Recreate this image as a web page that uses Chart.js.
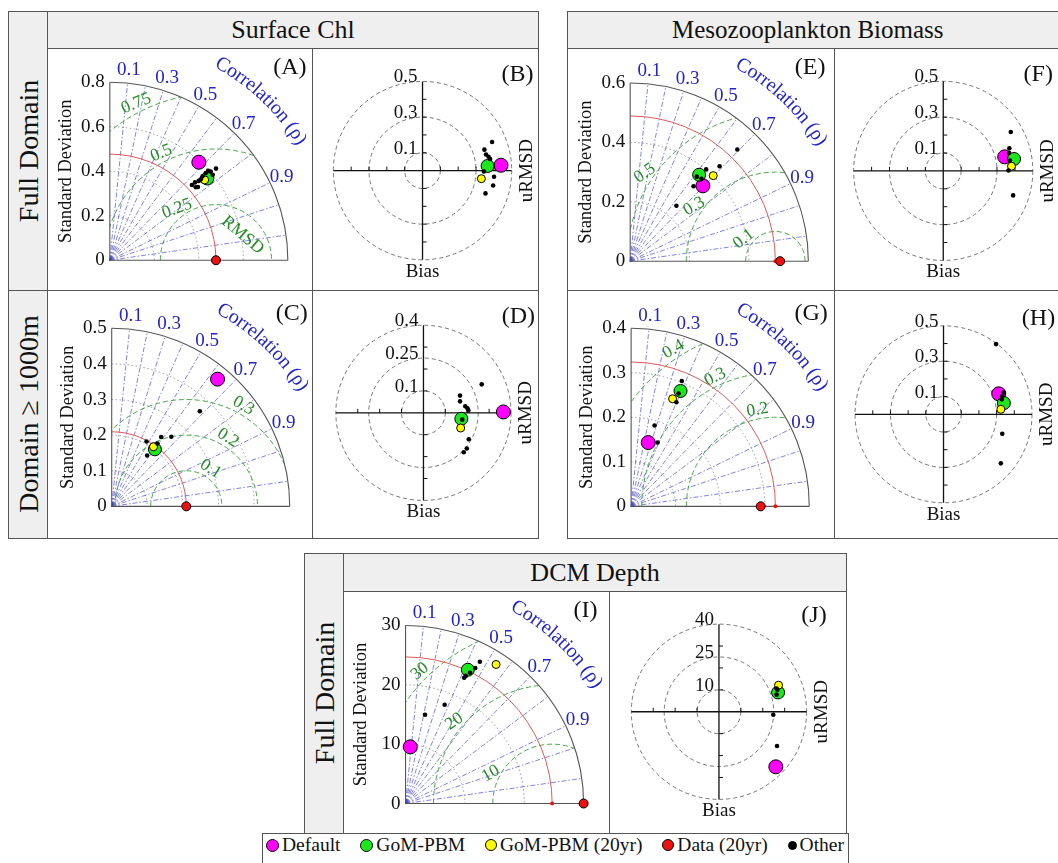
<!DOCTYPE html>
<html><head><meta charset="utf-8">
<script src="https://cdn.jsdelivr.net/npm/chart.js@4.4.1/dist/chart.umd.min.js"></script>
<style>
body{margin:0;width:1058px;height:863px;position:relative;background:#fff;overflow:hidden;font-family:"Liberation Serif","Times New Roman",serif;color:#111;}
.rect{position:absolute;border:1px solid #555;box-sizing:border-box;}
.line{position:absolute;background:#555;}
.hdr{display:flex;align-items:center;justify-content:center;font-size:26px;}
.side{position:absolute;font-size:28px;white-space:nowrap;transform:translate(-50%,-50%) rotate(-90deg);}
canvas{position:absolute;}
#legend{position:absolute;left:266px;top:834px;width:578px;height:22px;display:flex;align-items:center;justify-content:space-between;font-size:19.5px;}
#legend .it{display:flex;align-items:center;}
#legend .mk{display:inline-block;border:1px solid #000;border-radius:50%;margin-right:3px;box-sizing:border-box;}
</style></head>
<body>
<script>
// ---------------- DATA ----------------
const seriesNames = ['Default','GoM-PBM','GoM-PBM (20yr)','Data (20yr)','Other'];
const corrLines = [0.1,0.2,0.3,0.4,0.5,0.6,0.7,0.8,0.9,0.95,0.99];
const corrLabels = [0.1,0.3,0.5,0.7,0.9];

// Taylor panels: [standard deviation, correlation]
// (A) Surface Chl, full domain
const A_ticks = [0,0.2,0.4,0.6,0.8];
const A_rmsd = [0.25,0.5,0.75];
const A_ref = 0.477;
const A_default = [[0.597,0.67]];
const A_gom = [[0.573,0.764]];
const A_gom20 = [[0.560,0.761]];
const A_data20 = [[0.477,1]];
const A_other = [[0.502,0.735],[0.520,0.736],[0.516,0.767],[0.537,0.744],[0.549,0.745],[0.564,0.739],[0.584,0.738],[0.599,0.738],[0.605,0.749],[0.632,0.755],[0.603,0.767],[0.508,0.760]];
// (C) Surface Chl, domain >= 1000 m
const C_ticks = [0,0.1,0.2,0.3,0.4,0.5];
const C_rmsd = [0.1,0.2,0.3];
const C_ref = 0.2095;
const C_default = [[0.466,0.638]];
const C_gom = [[0.2015,0.602]];
const C_gom20 = [[0.205,0.572]];
const C_data20 = [[0.2095,1]];
const C_other = [[0.2075,0.471],[0.1746,0.57],[0.240,0.579],[0.258,0.649],[0.365,0.678],[0.219,0.587]];
// (E) Mesozooplankton, full domain
const E_ticks = [0,0.2,0.4,0.6];
const E_rmsd = [0.1,0.3,0.5];
const E_ref = 0.489;
const E_default = [[0.354,0.692]];
const E_gom = [[0.374,0.621]];
const E_gom20 = [[0.403,0.694]];
const E_data20 = [[0.505,1]];
const E_other = [[0.523,0.690],[0.441,0.683],[0.403,0.635],[0.332,0.643],[0.244,0.638],[0.364,0.616],[0.368,0.652]];
// (G) Mesozooplankton, domain >= 1000 m
const G_ticks = [0,0.1,0.2,0.3,0.4];
const G_rmsd = [0.2,0.3,0.4];
const G_ref = 0.324;
const G_default = [[0.149,0.258]];
const G_gom = [[0.283,0.392]];
const G_gom20 = [[0.260,0.358]];
const G_data20 = [[0.291,1]];
const G_other = [[0.305,0.373],[0.256,0.397],[0.190,0.277],[0.156,0.381],[0.276,0.386]];
// (I) DCM depth, full domain
const I_ticks = [0,10,20,30];
const I_rmsd = [10,20,30];
const I_ref = 24.7;
const I_default = [[9.64,0.082]];
const I_gom = [[25.0,0.42]];
const I_gom20 = [[28.08,0.543]];
const I_data20 = [[30.0,1]];
const I_other = [[27.1,0.462],[25.8,0.455],[23.9,0.424],[24.7,0.44],[18.0,0.366],[15.4,0.213],[23.5,0.42]];

// Target panels: [uRMSD, bias]
const B_circles = [0.1,0.3,0.5];
const B_default = [[0.44,0.03]];
const B_gom = [[0.365,0.026]];
const B_gom20 = [[0.33,-0.045]];
const B_other = [[0.39,0.16],[0.347,0.117],[0.356,0.09],[0.37,0.077],[0.379,0.065],[0.401,-0.034],[0.396,-0.083],[0.353,-0.127],[0.344,-0.005]];
const D_circles = [0.1,0.25,0.4];
const D_default = [[0.365,0.004]];
const D_gom = [[0.173,-0.027]];
const D_gom20 = [[0.170,-0.069]];
const D_other = [[0.266,0.129],[0.167,0.078],[0.167,0.052],[0.191,0.030],[0.205,0.011],[0.201,0.021],[0.207,-0.12],[0.198,-0.162],[0.184,-0.179],[0.177,-0.031]];
const F_circles = [0.1,0.3,0.5];
const F_default = [[0.343,0.078]];
const F_gom = [[0.395,0.066]];
const F_gom20 = [[0.381,0.026]];
const F_other = [[0.377,0.216],[0.369,0.126],[0.367,0.100],[0.372,0.057],[0.364,0.002],[0.390,-0.136]];
const H_circles = [0.1,0.3,0.5];
const H_default = [[0.312,0.115]];
const H_gom = [[0.341,0.063]];
const H_gom20 = [[0.324,0.028]];
const H_other = [[0.297,0.394],[0.341,0.122],[0.332,0.101],[0.329,0.084],[0.332,-0.109],[0.324,-0.275]];
const J_circles = [10,25,40];
const J_default = [[25.96,-25.1]];
const J_gom = [[27.0,8.8]];
const J_gom20 = [[27.2,12.1]];
const J_other = [[26.3,10.6],[26.3,7.8],[24.8,-1.4],[26.5,-15.6],[26.7,10.0]];

// ---------------- STYLE / LAYOUT ----------------
const FONT = '"Liberation Serif","Times New Roman",serif';
const seriesColors = ['#ff00ff','#1ee61e','#ffff00','#ee1111','#000000'];
const legendSizes = [13,13,12,12,9];
const MK = {
  default:{bg:'#ff00ff',r:7,bw:1,order:5},
  gom:{bg:'#1ee61e',r:6.5,bw:1,order:4},
  gom20:{bg:'#ffff00',r:4,bw:1,order:3},
  data20:{bg:'#ee1111',r:4.5,bw:1,order:2},
  ref:{bg:'#ee1111',r:2,bw:0,order:2},
  other:{bg:'#000000',r:2.3,bw:0,order:1}
};

function rect(x,y,w,h,bg,cls,txt){const d=document.createElement('div');d.className='rect'+(cls?' '+cls:'');Object.assign(d.style,{left:x+'px',top:y+'px',width:w+'px',height:h+'px',background:bg||'transparent'});if(txt)d.textContent=txt;document.body.appendChild(d);return d;}
function line(x,y,w,h){const d=document.createElement('div');d.className='line';Object.assign(d.style,{left:x+'px',top:y+'px',width:w+'px',height:h+'px'});document.body.appendChild(d);}
function side(txt,x,y){const d=document.createElement('div');d.className='side';d.textContent=txt;d.style.left=x+'px';d.style.top=y+'px';document.body.appendChild(d);}

// Frames
rect(8,11,531,528,'#fff');
rect(8,11,40,528,'#efefef');
rect(47,11,492,38,'#efefef','hdr','Surface Chl');
line(8,290,531,1); line(312,48,1,490);
side('Full Domain',29,151); side('Domain \u2265 1000m',29,414);

rect(567,11,510,528,'#fff');
const mh=rect(567,11,510,38,'#efefef','hdr','Mesozooplankton Biomass');
mh.style.justifyContent='flex-start'; mh.style.paddingLeft='104px'; mh.style.fontSize='25px';
line(567,290,500,1); line(834,48,1,490);

rect(304,553,543,281,'#fff');
rect(304,553,40,281,'#efefef');
rect(343,553,504,39,'#efefef','hdr','DCM Depth');
line(609,591,1,242);
side('Full Domain',325,693);

rect(262,833,587,40,'#fff');

// legend
(function(){
  const lg=document.createElement('div');lg.id='legend';
  seriesNames.forEach((n,i)=>{
    const it=document.createElement('span');it.className='it';
    const m=document.createElement('span');m.className='mk';
    m.style.width=legendSizes[i]+'px';m.style.height=legendSizes[i]+'px';m.style.background=seriesColors[i];
    const t=document.createElement('span');t.textContent=n;
    it.appendChild(m);it.appendChild(t);lg.appendChild(it);
  });
  document.body.appendChild(lg);
})();

function mkCanvas(cell){const c=document.createElement('canvas');c.width=cell[2];c.height=cell[3];c.style.left=cell[0]+'px';c.style.top=cell[1]+'px';document.body.appendChild(c);return c;}
function scalesFor(cell,o,k){
  const common={type:'linear',display:false,bounds:'data',grid:{display:false},ticks:{display:false}};
  return {x:Object.assign({},common,{min:(cell[0]-o[0])/k,max:(cell[0]+cell[2]-o[0])/k}),
          y:Object.assign({},common,{min:(o[1]-cell[1]-cell[3])/k,max:(o[1]-cell[1])/k})};
}
function ds(points,st){
  return {data:points,pointRadius:st.r,pointHoverRadius:st.r,pointBackgroundColor:st.bg,pointBorderColor:'#000',pointBorderWidth:st.bw,order:st.order,clip:false,showLine:false};
}
const taylorXY = arr => arr.map(([s,c])=>({x:s*c,y:s*Math.sqrt(Math.max(0,1-c*c))}));
const targetXY = arr => arr.map(([u,b])=>({x:u,y:b}));

function arcText(ctx,text,ox,oy,r,centerDeg){
  const total=ctx.measureText(text).width;
  let ang=centerDeg*Math.PI/180+(total/2)/r;
  for(const ch of text){
    const w=ctx.measureText(ch).width;
    const a=ang-(w/2)/r;
    ctx.save();ctx.translate(ox+r*Math.cos(a),oy-r*Math.sin(a));ctx.rotate(Math.PI/2-a);
    ctx.fillText(ch,0,0);ctx.restore();
    ang-=w/r;
  }
}

function taylorPlugin(p){
  return {id:'taylor',beforeDatasetsDraw(chart){
    const ctx=chart.ctx,sx=chart.scales.x,sy=chart.scales.y;
    const ox=sx.getPixelForValue(0),oy=sy.getPixelForValue(0);
    const k=sx.getPixelForValue(1)-ox,R=p.max*k;
    ctx.save();
    ctx.lineWidth=1;ctx.strokeStyle='#999';ctx.setLineDash([1.5,2.5]);
    p.ticks.forEach(t=>{if(t>0&&t<p.max){ctx.beginPath();ctx.arc(ox,oy,t*k,-Math.PI/2,0);ctx.stroke();}});
    ctx.strokeStyle='rgba(55,55,210,0.78)';ctx.lineWidth=0.8;ctx.setLineDash([5,2,1.5,2]);
    corrLines.forEach(c=>{const a=Math.acos(c);ctx.beginPath();ctx.moveTo(ox,oy);ctx.lineTo(ox+R*Math.cos(a),oy-R*Math.sin(a));ctx.stroke();});
    const cx=ox+p.ref*k;
    ctx.save();ctx.beginPath();ctx.moveTo(ox,oy);ctx.arc(ox,oy,R,-Math.PI/2,0);ctx.closePath();ctx.clip();
    ctx.strokeStyle='#45a845';ctx.lineWidth=1;ctx.setLineDash([5,3]);
    p.rmsd.forEach(r=>{ctx.beginPath();ctx.arc(cx,oy,r*k,Math.PI,2*Math.PI);ctx.stroke();});
    ctx.restore();
    ctx.setLineDash([]);ctx.strokeStyle='#e05a5a';ctx.lineWidth=1;
    ctx.beginPath();ctx.arc(ox,oy,p.ref*k,-Math.PI/2,0);ctx.stroke();
    ctx.strokeStyle='#555';ctx.lineWidth=1.1;
    ctx.beginPath();ctx.arc(ox,oy,R,-Math.PI/2,0);ctx.stroke();
    ctx.beginPath();ctx.moveTo(ox,oy-R);ctx.lineTo(ox,oy);ctx.lineTo(ox+R,oy);ctx.stroke();
    // tick labels
    ctx.fillStyle='#111';ctx.font='19px '+FONT;ctx.textAlign='right';ctx.textBaseline='middle';
    p.ticks.forEach(t=>ctx.fillText(String(t),ox-5,oy-t*k));
    ctx.save();ctx.translate(ox-44,oy-R/2);ctx.rotate(-Math.PI/2);ctx.textAlign='center';ctx.font='18.5px '+FONT;
    ctx.fillText('Standard Deviation',0,0);ctx.restore();
    // correlation labels
    ctx.fillStyle='#2323c8';ctx.textAlign='center';ctx.font='19px '+FONT;
    corrLabels.forEach(c=>{const a=Math.acos(c);ctx.fillText(String(c),ox+(R+13)*Math.cos(a),oy-(R+13)*Math.sin(a));});
    ctx.font='20px '+FONT;
    arcText(ctx,'Correlation (\u03c1)',ox,oy,R+47,46.5);
    // RMSD labels
    ctx.fillStyle='#238b23';ctx.font='17.5px '+FONT;
    p.rmsdLab.forEach(([v,ang,rot])=>{const a=ang*Math.PI/180,rr=v*k+9;
      ctx.save();ctx.translate(cx+rr*Math.cos(a),oy-rr*Math.sin(a));ctx.rotate(rot*Math.PI/180);ctx.fillText(String(v),0,0);ctx.restore();});
    if(p.rmsdWord){const [x,y,rot]=p.rmsdWord;ctx.save();ctx.translate(sx.getPixelForValue(x),sy.getPixelForValue(y));ctx.rotate(rot*Math.PI/180);ctx.fillText('RMSD',0,0);ctx.restore();}
    // panel label
    ctx.fillStyle='#111';ctx.font='24px '+FONT;ctx.fillText('('+p.id+')',ox+180,oy-193);
    ctx.restore();
  }};
}

function targetPlugin(p){
  return {id:'target',beforeDatasetsDraw(chart){
    const ctx=chart.ctx,sx=chart.scales.x,sy=chart.scales.y;
    const cx=sx.getPixelForValue(0),cy=sy.getPixelForValue(0);
    const k=sx.getPixelForValue(1)-cx;const max=p.circles[p.circles.length-1];const R=max*k;
    ctx.save();
    ctx.strokeStyle='#666';ctx.lineWidth=0.9;ctx.setLineDash([4,3]);
    p.circles.forEach(r=>{ctx.beginPath();ctx.arc(cx,cy,r*k,0,2*Math.PI);ctx.stroke();});
    ctx.setLineDash([]);ctx.strokeStyle='#111';ctx.lineWidth=1.3;
    ctx.beginPath();ctx.moveTo(cx-R,cy);ctx.lineTo(cx+R,cy);ctx.moveTo(cx,cy-R);ctx.lineTo(cx,cy+R);ctx.stroke();
    ctx.lineWidth=1;
    for(let v=p.tick;v<max-1e-9;v+=p.tick){
      [v,-v].forEach(t=>{ctx.beginPath();ctx.moveTo(cx+t*k,cy);ctx.lineTo(cx+t*k,cy-4);ctx.moveTo(cx,cy-t*k);ctx.lineTo(cx+4,cy-t*k);ctx.stroke();});
    }
    ctx.fillStyle='#111';ctx.font='19px '+FONT;ctx.textAlign='right';ctx.textBaseline='alphabetic';
    p.circles.forEach(r=>ctx.fillText(String(r),cx-5,cy-r*k+1));
    ctx.textAlign='center';ctx.textBaseline='middle';
    ctx.fillText('Bias',cx,cy+R+12);
    ctx.save();ctx.translate(cx+R+15,cy);ctx.rotate(-Math.PI/2);ctx.fillText('uRMSD',0,0);ctx.restore();
    ctx.font='24px '+FONT;ctx.fillText('('+p.id+')',cx+95,cy-96);
    ctx.restore();
  }};
}

const baseOpts = s => ({responsive:false,animation:false,events:[],layout:{padding:0},
  plugins:{legend:{display:false},tooltip:{enabled:false}},scales:s});

const TAYLOR = [
  {id:'A',cell:[48,49,264,241],o:[105.3,266.7],max:0.8,ticks:A_ticks,rmsd:A_rmsd,ref:A_ref,
   rmsdLab:[[0.25,127,-20],[0.5,117,-22],[0.75,117,-22]],rmsdWord:[0.597,0.113,40],
   d:{default:A_default,gom:A_gom,gom20:A_gom20,data20:A_data20,other:A_other}},
  {id:'C',cell:[48,291,264,247],o:[107.3,512.7],max:0.5,ticks:C_ticks,rmsd:C_rmsd,ref:C_ref,
   rmsdLab:[[0.1,57,32],[0.2,58.6,32],[0.3,60.4,30]],
   d:{default:C_default,gom:C_gom,gom20:C_gom20,data20:C_data20,other:C_other}},
  {id:'E',cell:[567,49,267,241],o:[625.7,267.7],max:0.6,ticks:E_ticks,rmsd:E_rmsd,ref:E_ref,
   rmsdLab:[[0.5,146,-35],[0.3,146,-30],[0.1,145,-38]],
   d:{default:E_default,gom:E_gom,gom20:E_gom20,data20:E_data20,other:E_other}},
  {id:'G',cell:[567,291,267,247],o:[626.7,512.7],max:0.4,ticks:G_ticks,rmsd:G_rmsd,ref:G_ref,
   rmsdLab:[[0.4,123,-30],[0.3,115,-25],[0.2,100.5,-10]],
   d:{default:G_default,gom:G_gom,gom20:G_gom20,data20:G_data20,other:G_other}},
  {id:'I',cell:[344,592,265,241],o:[401,810],max:30,ticks:I_ticks,rmsd:I_rmsd,ref:I_ref,
   rmsdLab:[[30,135,-40],[20,140,-35],[10,154,-30]],
   d:{default:I_default,gom:I_gom,gom20:I_gom20,data20:I_data20,other:I_other}}
];
const TARGET = [
  {id:'B',cell:[313,49,225,241],o:[422.3,170.7],k:192,circles:B_circles,tick:0.1,d:{default:B_default,gom:B_gom,gom20:B_gom20,other:B_other}},
  {id:'D',cell:[313,291,225,247],o:[423.3,412.7],k:235.75,circles:D_circles,tick:0.1,d:{default:D_default,gom:D_gom,gom20:D_gom20,other:D_other}},
  {id:'F',cell:[835,49,223,241],o:[943,171],k:193,circles:F_circles,tick:0.1,d:{default:F_default,gom:F_gom,gom20:F_gom20,other:F_other}},
  {id:'H',cell:[835,291,223,247],o:[943.3,414.3],k:190.6,circles:H_circles,tick:0.1,d:{default:H_default,gom:H_gom,gom20:H_gom20,other:H_other}},
  {id:'J',cell:[610,592,236,241],o:[718.3,711.7],k:2.35,circles:J_circles,tick:10,d:{default:J_default,gom:J_gom,gom20:J_gom20,other:J_other}}
];

TAYLOR.forEach(p=>{
  const k=189.5/p.max;
  const sets=['default','gom','gom20','data20','other'].map(key=>ds(taylorXY(p.d[key]),MK[key]));
  sets.push(ds([{x:p.ref,y:0}],MK.ref));
  new Chart(mkCanvas(p.cell),{type:'scatter',data:{datasets:sets},options:baseOpts(scalesFor(p.cell,p.o,k)),plugins:[taylorPlugin(p)]});
});
TARGET.forEach(p=>{
  const sets=['default','gom','gom20','other'].map(key=>ds(targetXY(p.d[key]),MK[key]));
  new Chart(mkCanvas(p.cell),{type:'scatter',data:{datasets:sets},options:baseOpts(scalesFor(p.cell,p.o,p.k)),plugins:[targetPlugin(p)]});
});
</script>
</body></html>
